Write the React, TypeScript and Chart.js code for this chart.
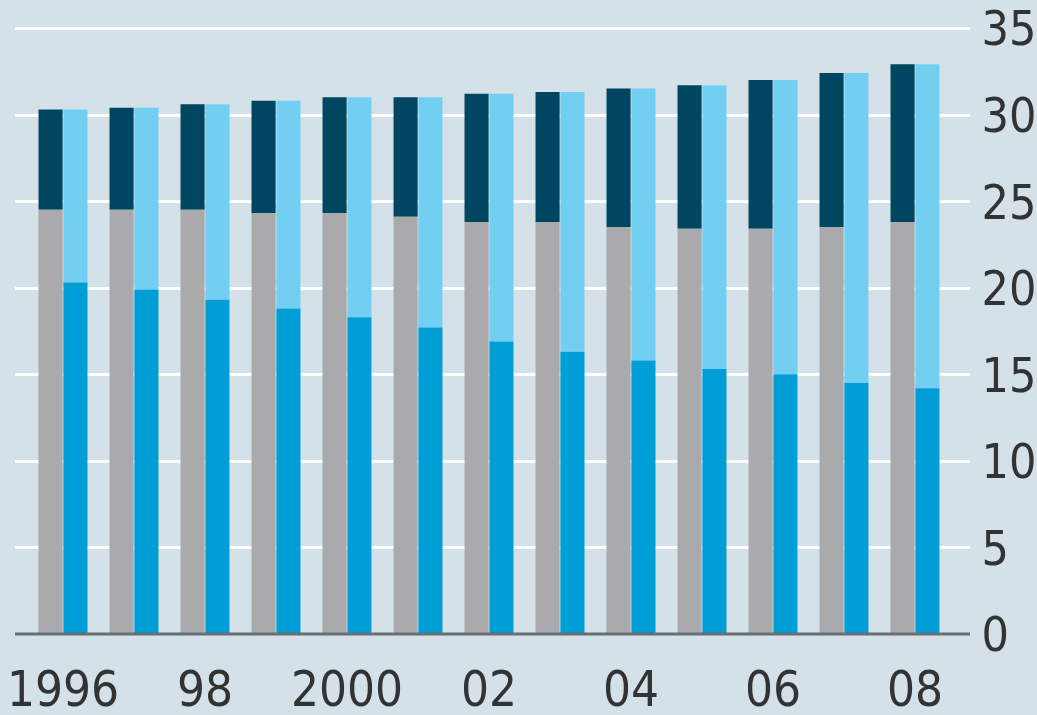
import React, { useEffect, useRef } from "react";
import { Chart, registerables } from "chart.js";

Chart.register(...registerables);

const years = ["1996", "1997", "1998", "1999", "2000", "2001", "2002", "2003", "2004", "2005", "2006", "2007", "2008"];
const xTickLabels = ["1996", "", "98", "", "2000", "", "02", "", "04", "", "06", "", "08"];
const yTicks = [0, 5, 10, 15, 20, 25, 30, 35];

// left bar: grey bottom + dark navy top
const greyValues = [24.5, 24.5, 24.5, 24.3, 24.3, 24.1, 23.8, 23.8, 23.5, 23.4, 23.4, 23.5, 23.8];
const navyValues = [5.8, 5.9, 6.1, 6.5, 6.7, 6.9, 7.4, 7.5, 8.0, 8.3, 8.6, 8.9, 9.1];
// right bar: blue bottom + light blue top
const blueValues = [20.3, 19.9, 19.3, 18.8, 18.3, 17.7, 16.9, 16.3, 15.8, 15.3, 15.0, 14.5, 14.2];
const lightValues = [10.0, 10.5, 11.3, 12.0, 12.7, 13.3, 14.3, 15.0, 15.7, 16.4, 17.0, 17.9, 18.7];

const BG = "#d5e1e9";
const FONT = "'DejaVu Sans Condensed', 'DejaVu Sans', sans-serif";

export default function App() {
  const ref = useRef<HTMLCanvasElement | null>(null);

  useEffect(() => {
    document.body.style.margin = "0";
    document.body.style.background = BG;
    const canvas = ref.current;
    if (!canvas) return;

    const bgPlugin = {
      id: "bg",
      beforeDraw(chart: any) {
        const { ctx, width, height } = chart;
        ctx.save();
        ctx.fillStyle = BG;
        ctx.fillRect(0, 0, width, height);
        ctx.restore();
      },
      beforeDatasetsDraw(chart: any) {
        const { ctx, chartArea, scales } = chart;
        const y = scales.y;
        ctx.save();
        ctx.strokeStyle = "#ffffff";
        ctx.lineWidth = 3;
        yTicks.forEach((v) => {
          if (v === 0) return;
          const py = Math.round(y.getPixelForValue(v)) + 0.5;
          ctx.beginPath();
          ctx.moveTo(chartArea.left - 12.5, py);
          ctx.lineTo(chartArea.right + 19.5, py);
          ctx.stroke();
        });
        ctx.restore();
      },
      afterDatasetsDraw(chart: any) {
        const { ctx, chartArea, scales } = chart;
        const py = scales.y.getPixelForValue(0);
        ctx.save();
        ctx.strokeStyle = "#676f75";
        ctx.lineWidth = 3;
        ctx.beginPath();
        ctx.moveTo(chartArea.left - 12.5, py);
        ctx.lineTo(chartArea.right + 19.5, py);
        ctx.stroke();
        ctx.restore();
      },
    };

    const common = { categoryPercentage: 0.7, barPercentage: 0.97, borderWidth: 0 };

    const chart = new Chart(canvas, {
      type: "bar",
      data: {
        labels: years,
        datasets: [
          { label: "grey", data: greyValues, backgroundColor: "#aaaaad", stack: "a", ...common },
          { label: "navy", data: navyValues, backgroundColor: "#004660", stack: "a", ...common },
          { label: "blue", data: blueValues, backgroundColor: "#009ed6", stack: "b", ...common },
          { label: "light", data: lightValues, backgroundColor: "#73cff2", stack: "b", ...common },
        ],
      },
      options: {
        animation: false,
        responsive: true,
        maintainAspectRatio: false,
        layout: { padding: { top: 28, left: 27.5, right: 0, bottom: 0 } },
        plugins: { legend: { display: false }, tooltip: { enabled: false }, title: { display: false } },
        scales: {
          x: {
            stacked: true,
            offset: true,
            grid: { display: false, drawTicks: false },
            border: { display: false },
            ticks: {
              autoSkip: false,
              maxRotation: 0,
              padding: 30,
              color: "#333333",
              font: { family: FONT, size: 49 },
              callback: (_v: any, i: number) => xTickLabels[i],
            },
            afterFit: (s: any) => {
              s.height = 81;
              s.paddingLeft = 0;
              s.paddingRight = 0;
            },
          },
          y: {
            position: "right",
            stacked: true,
            min: 0,
            max: 35,
            grid: { display: false, drawTicks: false },
            border: { display: false },
            ticks: {
              stepSize: 5,
              padding: 31,
              labelOffset: 5,
              color: "#333333",
              font: { family: FONT, size: 48 },
            },
            afterFit: (s: any) => {
              s.width = 86.5;
              s.paddingTop = 0;
              s.paddingBottom = 0;
            },
          },
        },
      },
      plugins: [bgPlugin],
    });

    return () => chart.destroy();
  }, []);

  return (
    <div style={{ width: 1037, height: 715, position: "relative", background: BG }}>
      <canvas ref={ref} />
    </div>
  );
}
